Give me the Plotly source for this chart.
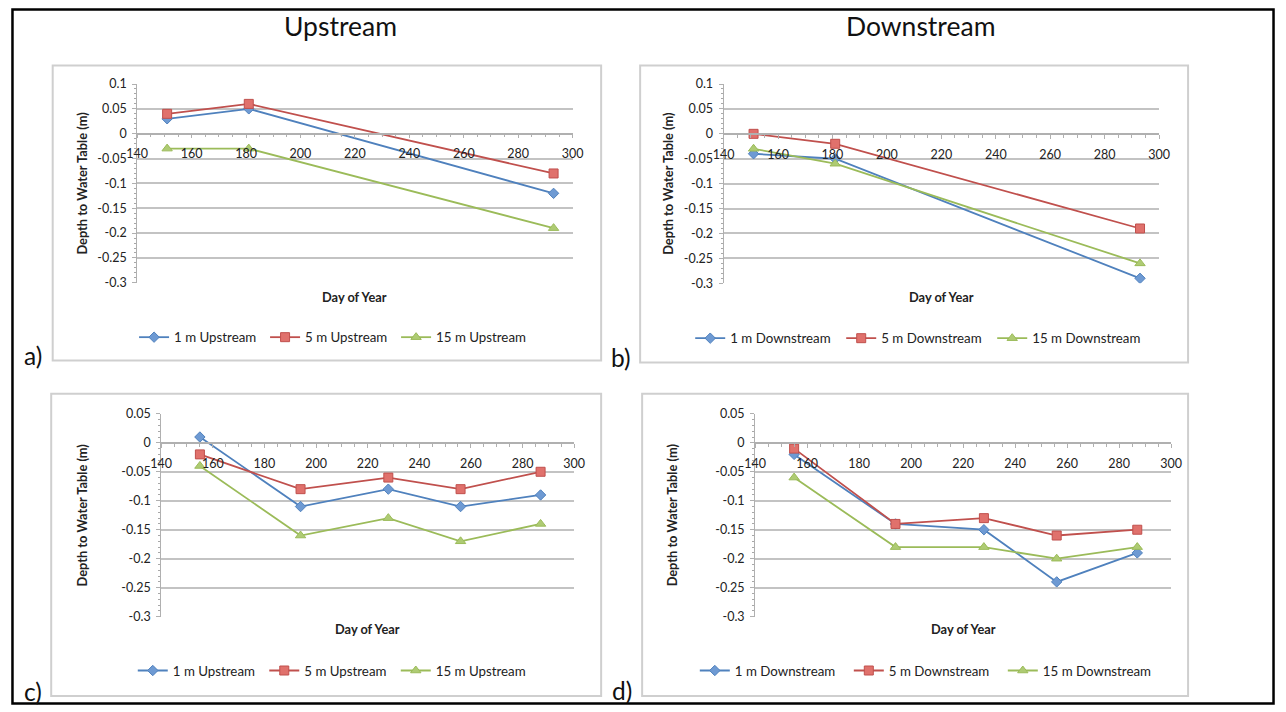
import plotly.graph_objects as go

W, H = 1286, 712
FONT = "Lato, 'Open Sans', sans-serif"

# ---------------- data ----------------
days_ab = [151, 181, 293]
up_1m_a = [0.03, 0.05, -0.12]
up_5m_a = [0.04, 0.06, -0.08]
up_15m_a = [-0.03, -0.03, -0.19]

down_1m_b = [-0.04, -0.05, -0.29]
down_5m_b = [0.0, -0.02, -0.19]
down_15m_b = [-0.03, -0.06, -0.26]

days_cd = [155, 194, 228, 256, 287]
up_1m_c = [0.01, -0.11, -0.08, -0.11, -0.09]
up_5m_c = [-0.02, -0.08, -0.06, -0.08, -0.05]
up_15m_c = [-0.04, -0.16, -0.13, -0.17, -0.14]

down_1m_d = [-0.02, -0.14, -0.15, -0.24, -0.19]
down_5m_d = [-0.01, -0.14, -0.13, -0.16, -0.15]
down_15m_d = [-0.06, -0.18, -0.18, -0.20, -0.18]

x_tick_vals = [140, 160, 180, 200, 220, 240, 260, 280, 300]
y_tick_vals_ab = [0.1, 0.05, 0, -0.05, -0.1, -0.15, -0.2, -0.25, -0.3]
y_tick_text_ab = ["0.1", "0.05", "0", "-0.05", "-0.1", "-0.15", "-0.2", "-0.25", "-0.3"]
y_tick_vals_cd = [0.05, 0, -0.05, -0.1, -0.15, -0.2, -0.25, -0.3]
y_tick_text_cd = ["0.05", "0", "-0.05", "-0.1", "-0.15", "-0.2", "-0.25", "-0.3"]

names_up = ["1 m Upstream", "5 m Upstream", "15 m Upstream"]
names_down = ["1 m Downstream", "5 m Downstream", "15 m Downstream"]
col_titles = ["Upstream", "Downstream"]
panel_letters = ["a)", "b)", "c)", "d)"]

# ---------------- styles ----------------
LINE_COLS = ["#4F81BD", "#C0504D", "#9BBB59"]
FILL_COLS = ["#6E9AD3", "#E0716C", "#AECB73"]
SYMBOLS = ["diamond", "square", "triangle-up"]
MSIZES = [8, 9, 9]
GRID = "#c3c3c3"
AXIS = "#b0b0b0"

# the photographed page is slightly inset/scaled; map target picture pixels to figure pixels
SX, OX = 0.983, 10.8
SY, OY = 0.975, 8.8


def fx(x):
    return (x - OX) / SX


def fy(y):
    return (y - OY) / SY


# target pixel layout of each panel: plot area (x0, x1, ytop, ybottom), frame box, legend
panels = [
    dict(plot=(137, 572.5, 84.5, 282.5), box=(52.5, 66, 601, 360), yr=(-0.3, 0.1),
         tv=y_tick_vals_ab, tt=y_tick_text_ab, x=days_ab,
         ys=[up_1m_a, up_5m_a, up_15m_a], names=names_up,
         ytitle_x=82, xtitle_y=296.5, leg=(138.8, 337), entry=86, letter=(33, 355)),
    dict(plot=(723.5, 1159, 84.5, 283), box=(640, 66, 1188, 362), yr=(-0.3, 0.1),
         tv=y_tick_vals_ab, tt=y_tick_text_ab, x=days_ab,
         ys=[down_1m_b, down_5m_b, down_15m_b], names=names_down,
         ytitle_x=668, xtitle_y=296.5, leg=(695, 338), entry=106, letter=(621, 357)),
    dict(plot=(161, 574, 413, 615), box=(51, 393, 601, 694), yr=(-0.3, 0.05),
         tv=y_tick_vals_cd, tt=y_tick_text_cd, x=days_cd,
         ys=[up_1m_c, up_5m_c, up_15m_c], names=names_up,
         ytitle_x=82, xtitle_y=627, leg=(137.5, 669), entry=86.5, letter=(33, 690)),
    dict(plot=(755, 1171, 413, 615), box=(642, 393, 1188, 694), yr=(-0.3, 0.05),
         tv=y_tick_vals_cd, tt=y_tick_text_cd, x=days_cd,
         ys=[down_1m_d, down_5m_d, down_15m_d], names=names_down,
         ytitle_x=672, xtitle_y=627, leg=(699.6, 669), entry=109, letter=(622, 689)),
]

fig = go.Figure()
layout = dict(
    width=W, height=H, margin=dict(l=0, r=0, t=0, b=0),
    paper_bgcolor="white", plot_bgcolor="white",
    font=dict(family=FONT, color="#222222"),
    showlegend=True,
)
shapes = []
annotations = []

for i, p in enumerate(panels):
    k = "" if i == 0 else str(i + 1)
    x0, x1, yt, yb = p["plot"]
    ydom = [1 - fy(yb) / H, 1 - fy(yt) / H]
    ymin, ymax = p["yr"]
    zero_pos = ydom[0] + (0 - ymin) / (ymax - ymin) * (ydom[1] - ydom[0])

    layout["xaxis" + k] = dict(
        domain=[fx(x0) / W, fx(x1) / W], range=[140, 300], anchor="free", position=zero_pos,
        tickmode="array", tickvals=x_tick_vals,
        showgrid=False, zeroline=False, showline=True, linecolor=AXIS, linewidth=1.5,
        ticks="outside", ticklen=4, tickcolor=AXIS, tickwidth=1.2,
        minor=dict(ticks="outside", ticklen=3, dtick=5, tick0=140, tickcolor=AXIS, showgrid=False),
        tickfont=dict(family=FONT, size=12.5, color="#222222"), ticklabelstandoff=5,
        fixedrange=True,
    )
    layout["yaxis" + k] = dict(
        domain=ydom, range=[ymin, ymax], anchor="x" + k,
        tickmode="array", tickvals=p["tv"], ticktext=p["tt"],
        showgrid=True, gridcolor=GRID, gridwidth=1.6, zeroline=False,
        showline=True, linecolor=AXIS, linewidth=1,
        ticks="outside", ticklen=4, tickcolor=AXIS,
        minor=dict(ticks="outside", ticklen=2, dtick=0.01, tick0=0, tickcolor="#a8a8a8", showgrid=False),
        tickfont=dict(family=FONT, size=12.5, color="#222222"), ticklabelstandoff=3,
        fixedrange=True,
    )
    legname = "legend" + k
    lx, ly = p["leg"]
    layout[legname] = dict(
        orientation="h", x=(fx(lx) - 5) / W, y=1 - fy(ly) / H, xanchor="left", yanchor="middle",
        xref="paper", yref="paper", bgcolor="rgba(0,0,0,0)",
        font=dict(family=FONT, size=13.3, color="#222222"),
        entrywidth=p["entry"], entrywidthmode="pixels", itemwidth=30,
        tracegroupgap=0,
    )

    for j in range(3):
        fig.add_trace(go.Scatter(
            x=p["x"], y=p["ys"][j], name=p["names"][j], mode="lines+markers",
            xaxis="x" + k, yaxis="y" + k, legend=legname,
            line=dict(color=LINE_COLS[j], width=1.8),
            marker=dict(symbol=SYMBOLS[j], size=MSIZES[j], color=FILL_COLS[j],
                        line=dict(color=LINE_COLS[j], width=1)),
        ))

    bx0, by0, bx1, by1 = p["box"]
    shapes.append(dict(type="rect", xref="paper", yref="paper",
                       x0=fx(bx0) / W, x1=fx(bx1) / W, y0=1 - fy(by1) / H, y1=1 - fy(by0) / H,
                       line=dict(color="#cfcfcf", width=2), layer="below"))

    annotations.append(dict(text="<b>Depth to Water Table (m)</b>", textangle=-90,
                            x=fx(p["ytitle_x"]) / W, y=1 - fy((yt + yb) / 2) / H,
                            xref="paper", yref="paper", showarrow=False,
                            xanchor="center", yanchor="middle",
                            font=dict(family=FONT, size=12.8, color="#222222")))
    annotations.append(dict(text="<b>Day of Year</b>",
                            x=fx((x0 + x1) / 2) / W, y=1 - fy(p["xtitle_y"]) / H,
                            xref="paper", yref="paper", showarrow=False,
                            xanchor="center", yanchor="middle",
                            font=dict(family=FONT, size=12.8, color="#222222")))
    lx2, ly2 = p["letter"]
    annotations.append(dict(text=panel_letters[i], x=fx(lx2) / W, y=1 - fy(ly2) / H,
                            xref="paper", yref="paper", showarrow=False,
                            xanchor="center", yanchor="middle",
                            font=dict(family=FONT, size=24.5, color="#111111")))

# column titles
for txt, cx in zip(col_titles, [340, 920]):
    annotations.append(dict(text=txt, x=fx(cx) / W, y=1 - fy(27) / H, xref="paper", yref="paper",
                            showarrow=False, xanchor="center", yanchor="middle",
                            font=dict(family=FONT, size=26.5, color="#111111")))

# outer black frame (as close to the picture edges as the page allows)
shapes.append(dict(type="rect", xref="paper", yref="paper",
                   x0=1.5 / W, x1=(W - 1.5) / W, y0=1.5 / H, y1=1 - 1.5 / H,
                   line=dict(color="black", width=2.5)))

layout["shapes"] = shapes
layout["annotations"] = annotations
fig.update_layout(**layout)

fig.write_html(
    "out.html",
    config={"displayModeBar": False},
    post_script="document.body.style.margin='0px';document.body.style.overflow='hidden';"
                "document.documentElement.style.overflow='hidden';",
)
